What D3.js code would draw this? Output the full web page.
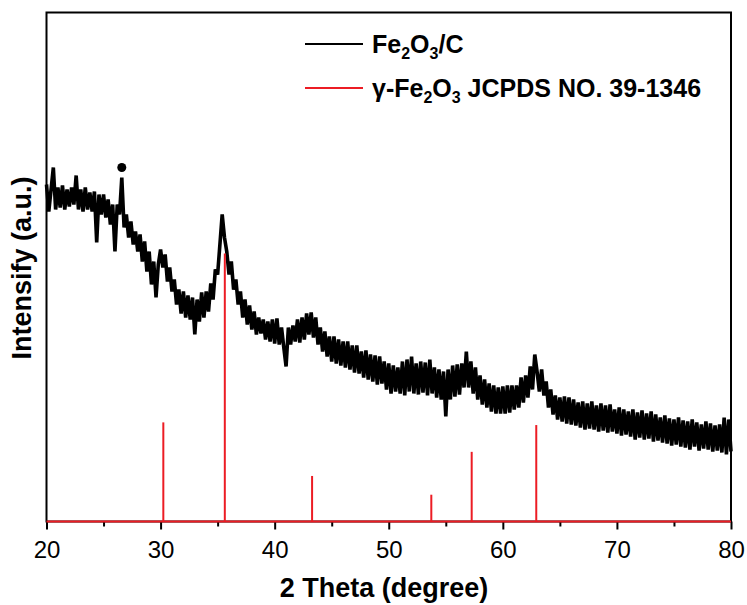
<!DOCTYPE html>
<html>
<head>
<meta charset="utf-8">
<script src="https://cdn.jsdelivr.net/npm/d3@7"></script>
<style>
  body { margin: 0; background: #fff; }
  svg { display: block; font-family: Arial, "Liberation Sans", sans-serif; }
</style>
</head>
<body>
<div id="chart"></div>
<script>
/* ── data ── */

// measured trace, 2θ from 20° to 80° in 0.2° steps (a.u.)
const thetaStart = 20;
const thetaStep  = 0.2;
const observed = [
  337, 310, 332, 354, 312,   334, 314, 336, 312, 332,   315, 334, 317, 346, 312,
  332, 310, 334, 312, 329,   310, 330, 279, 327, 307,   327, 304, 322, 297, 317,
  270, 317, 307, 344, 294,   307, 284, 300, 277, 290,   270, 287, 260, 280, 250,
  270, 237, 260, 224, 257,   272, 254, 267, 240, 254,   230, 242, 217, 232, 208,
  230, 204, 226, 202, 224,   187, 222, 200, 229, 204,   230, 210, 238, 222, 252,
  247, 277, 307, 284, 270,   247, 260, 232, 242, 217,   230, 204, 222, 197, 216,
  192, 210, 187, 204, 188,   202, 182, 200, 180, 202,   178, 203, 177, 194, 174,
  155, 194, 177, 196, 180,   202, 179, 204, 182, 208,   187, 209, 184, 204, 177,
  194, 170, 190, 165, 185,   160, 185, 158, 182, 156,   180, 154, 180, 152, 176,
  149, 176, 148, 170, 144,   171, 142, 167, 140, 166,   137, 165, 138, 160, 132,
  158, 128, 156, 130, 154,   128, 160, 126, 162, 130,   165, 128, 158, 127, 160,
  129, 159, 126, 162, 128,   154, 124, 152, 122, 150,   105, 152, 122, 156, 125,
  157, 127, 158, 134, 170,   134, 160, 128, 154, 122,   146, 117, 142, 114, 138,
  110, 136, 108, 134, 108,   135, 108, 136, 109, 136,   112, 136, 114, 144, 119,
  146, 124, 155, 132, 167,   150, 130, 152, 126, 140,   114, 132, 107, 126, 102,
  124, 100, 125,  98, 124,    97, 122,  96, 119,  94,   120,  92, 118,  93, 120,
   92, 116,  90, 118,  91,   116,  89, 117,  90, 112,    88, 114,  86, 112,  87,
  110,  85, 112,  82, 109,    84, 111,  82, 108,  83,   110,  80, 107,  81, 104,
   79, 106,  78, 103,  76,   102,  77, 104,  75, 101,    74, 100,  72, 102,  75,
   99,  71,  97,  73, 100,    72,  98,  70,  96,  71,    97,  69, 104,  67, 102,
   70
];

// γ-Fe2O3 reference pattern (JCPDS 39-1346), relative intensity
const refTheta     = [30.24, 35.63, 43.28, 53.73, 57.27, 62.93];
const refIntensity = [37, 100, 17, 10, 26, 36];

// graphite reflection marked with a dot
const dotTheta = [26.6];
const dotValue = [354];

const majorTicks = [20, 30, 40, 50, 60, 70, 80];
const minorTicks = [25, 35, 45, 55, 65, 75];

/* ── layout ── */
const W = 747, H = 605;
const X0 = 46.5, X1 = 731, YT = 12.5, YB = 521.5;
const RED = '#ec1c24';

const svg = d3.select('#chart').append('svg')
    .attr('width', W).attr('height', H);

const x = d3.scaleLinear().domain([20, 80]).range([X0, X1]);
const yObs = d3.scaleLinear().domain([0, 509]).range([YB, YT]);
const yRef = d3.scaleLinear().domain([0, 190]).range([YB, YT]);

const obsPts = observed.map((v, i) => [thetaStart + i * thetaStep, v]);

/* ── trace ── */
svg.append('path')
    .datum(obsPts)
    .attr('fill', 'none')
    .attr('stroke', '#000')
    .attr('stroke-width', 3.6)
    .attr('stroke-linejoin', 'bevel')
    .attr('d', d3.line().x(d => x(d[0])).y(d => yObs(d[1])));

svg.selectAll('.dot').data(dotTheta).enter().append('circle')
    .attr('cx', d => x(d))
    .attr('cy', (d, i) => yObs(dotValue[i]))
    .attr('r', 4.5)
    .attr('fill', '#000');

/* ── frame + axis ── */
svg.append('rect')
    .attr('x', X0).attr('y', YT)
    .attr('width', X1 - X0).attr('height', YB - YT)
    .attr('fill', 'none').attr('stroke', '#000').attr('stroke-width', 2);

const axisG = svg.append('g').attr('transform', `translate(0,${YB})`);
axisG.call(d3.axisBottom(x).tickValues(majorTicks).tickSize(8).tickPadding(11).tickFormat(d3.format('d')));
axisG.select('.domain').remove();
axisG.selectAll('line').attr('stroke-width', 2);
axisG.selectAll('text').attr('font-size', 24).attr('fill', '#000')
    .attr('font-family', 'Arial, "Liberation Sans", sans-serif');

const minorG = svg.append('g').attr('transform', `translate(0,${YB})`);
minorG.call(d3.axisBottom(x).tickValues(minorTicks).tickSize(5).tickFormat(''));
minorG.select('.domain').remove();
minorG.selectAll('line').attr('stroke-width', 2);

/* ── reference sticks ── */
svg.append('line')
    .attr('x1', X0).attr('x2', X1).attr('y1', yRef(0)).attr('y2', yRef(0))
    .attr('stroke', RED).attr('stroke-width', 2);

svg.selectAll('.stick').data(refTheta).enter().append('line')
    .attr('x1', d => x(d)).attr('x2', d => x(d))
    .attr('y1', yRef(0))
    .attr('y2', (d, i) => yRef(refIntensity[i]))
    .attr('stroke', RED).attr('stroke-width', 2);

/* ── axis titles ── */
svg.append('text')
    .attr('x', 384).attr('y', 597)
    .attr('text-anchor', 'middle')
    .attr('font-size', 27).attr('font-weight', 'bold')
    .text('2 Theta (degree)');

svg.append('text')
    .attr('transform', 'translate(31,268) rotate(-90)')
    .attr('text-anchor', 'middle')
    .attr('font-size', 27).attr('font-weight', 'bold')
    .text('Intensify (a.u.)');

/* ── legend ── */
function formula(t, parts) {
    parts.forEach(p => {
        if (p.sub) t.append('tspan').attr('font-size', 16).attr('dy', 6).text(p.sub);
        else t.append('tspan').attr('dy', p.up ? -6 : 0).text(p.txt);
    });
}

const legend = [
  { color: '#000', y: 44, parts: [{ txt: 'Fe' }, { sub: '2' }, { txt: 'O', up: true }, { sub: '3' }, { txt: '/C', up: true }] },
  { color: RED,   y: 88, parts: [{ txt: 'γ-Fe' }, { sub: '2' }, { txt: 'O', up: true }, { sub: '3' }, { txt: ' JCPDS NO. 39-1346', up: true }] }
];

legend.forEach(l => {
    svg.append('line')
        .attr('x1', 305).attr('x2', 363).attr('y1', l.y).attr('y2', l.y)
        .attr('stroke', l.color).attr('stroke-width', 2);
    const t = svg.append('text')
        .attr('x', 372).attr('y', l.y + 9)
        .attr('font-size', 25).attr('font-weight', 'bold');
    formula(t, l.parts);
});
</script>
</body>
</html>
